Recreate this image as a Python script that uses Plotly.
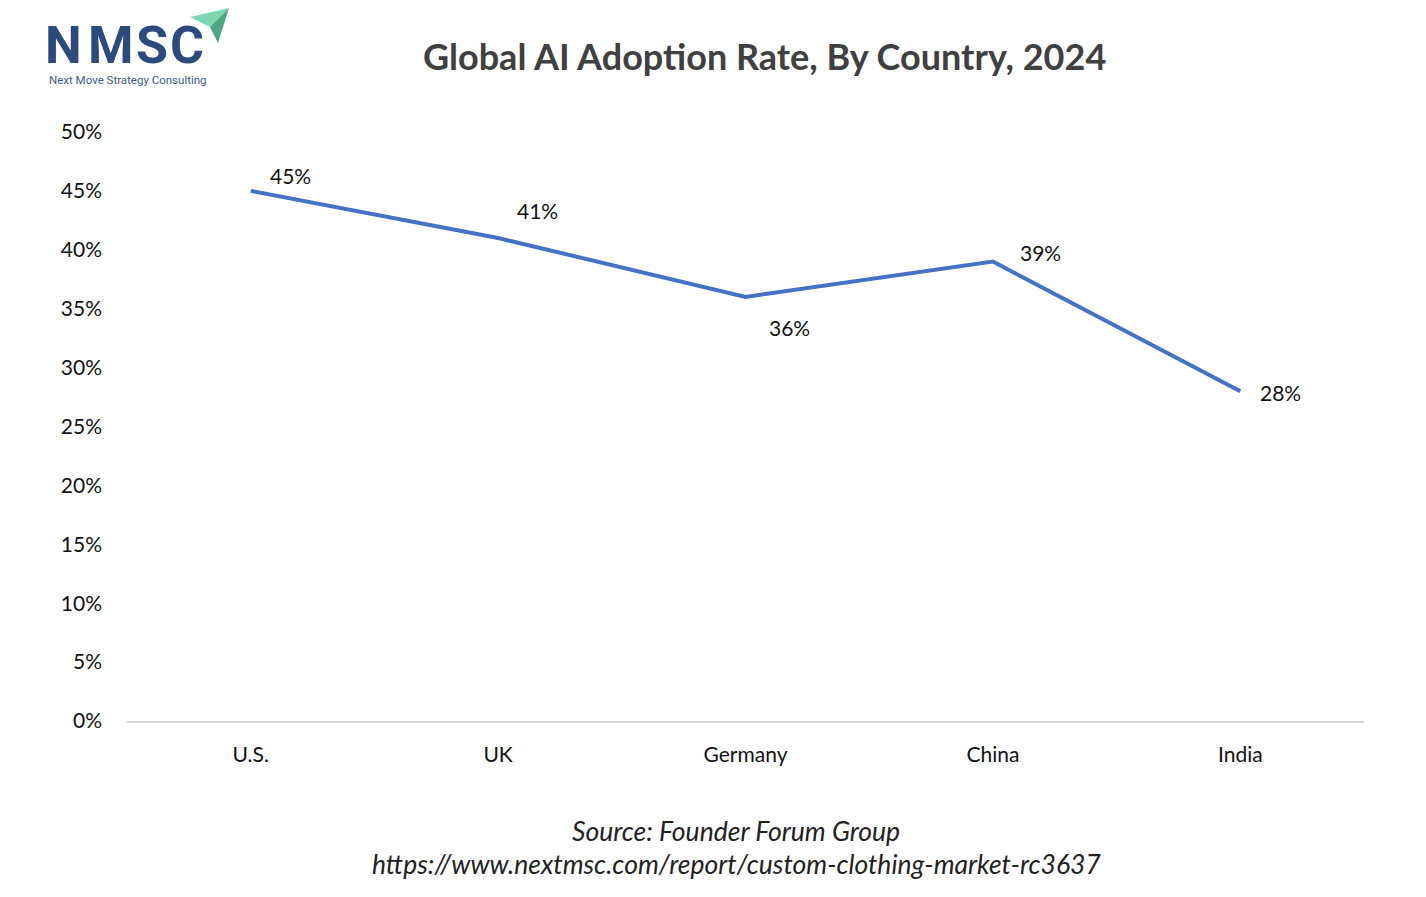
import plotly.graph_objects as go

countries = ["U.S.", "UK", "Germany", "China", "India"]
adoption = [45, 41, 36, 39, 28]
y_ticks = [0, 5, 10, 15, 20, 25, 30, 35, 40, 45, 50]
y_tick_labels = [f"{v}%" for v in y_ticks]

# label offsets (pixels) for data labels, style only
label_dx = [17, 17, 21, 25, 18]
label_dy = [15, 28, -31, 9, -1]

W, H = 1426, 897
L, R, T, B = 127, 62, 132, 176
PW, PH = W - L - R, H - T - B

def px(x):
    return (x - L) / PW

def py(y):
    return (H - B - y) / PH

FONT = "Lato"

fig = go.Figure()
fig.add_trace(go.Scatter(
    x=countries, y=adoption, mode="lines",
    line=dict(color="#4472C4", width=4),
    hoverinfo="skip", showlegend=False,
))

annotations = []
for c, v, dx, dy in zip(countries, adoption, label_dx, label_dy):
    annotations.append(dict(
        x=c, y=v, xref="x", yref="y", text=f"{v}%", showarrow=False,
        xanchor="left", yanchor="middle", xshift=dx, yshift=dy,
        font=dict(family=FONT, size=21, color="#111111"),
    ))

# title
annotations.append(dict(
    x=px(764), y=py(56), xref="paper", yref="paper",
    text="<b>Global AI Adoption Rate, By Country, 2024</b>", showarrow=False,
    xanchor="center", yanchor="middle",
    font=dict(family=FONT, size=36, color="#404040"),
))
# source
annotations.append(dict(
    x=px(736), y=py(831), xref="paper", yref="paper",
    text="<i>Source: Founder Forum Group</i>", showarrow=False,
    xanchor="center", yanchor="middle",
    font=dict(family=FONT, size=26.5, color="#222222"),
))
annotations.append(dict(
    x=px(736), y=py(864), xref="paper", yref="paper",
    text="<i>https://www.nextmsc.com/report/custom-clothing-market-rc3637</i>", showarrow=False,
    xanchor="center", yanchor="middle",
    font=dict(family=FONT, size=26.5, color="#222222"),
))
# logo letters
logo_letters = ["N", "M", "S", "C"]
logo_x = [63, 111, 152, 187]
for ch, lx in zip(logo_letters, logo_x):
    annotations.append(dict(
        x=px(lx), y=py(46), xref="paper", yref="paper",
        text=f"<b>{ch}</b>", showarrow=False,
        xanchor="center", yanchor="middle",
        font=dict(family="Roboto", size=52, color="#2C4A7C"),
    ))
annotations.append(dict(
    x=px(47), y=py(80), xref="paper", yref="paper",
    text="Next Move Strategy Consulting", showarrow=False,
    xanchor="left", yanchor="middle",
    font=dict(family="Roboto", size=11.5, color="#3A5A8C"),
))

shapes = [
    dict(
        type="path", xref="paper", yref="paper",
        path=f"M {px(190)} {py(17)} L {px(229)} {py(8)} L {px(210)} {py(27)} Z",
        fillcolor="#7DD8B2", line=dict(width=0),
    ),
    dict(
        type="path", xref="paper", yref="paper",
        path=f"M {px(210)} {py(27)} L {px(229)} {py(8)} L {px(218)} {py(43)} Z",
        fillcolor="#4FA882", line=dict(width=0),
    ),
]

fig.update_layout(
    width=W, height=H,
    margin=dict(l=L, r=R, t=T, b=B, autoexpand=False),
    paper_bgcolor="white", plot_bgcolor="white",
    font=dict(family=FONT, size=21, color="#111111"),
    xaxis=dict(
        range=[-0.5, 4.5], showgrid=False, zeroline=False,
        showline=True, linecolor="#D9D9D9", linewidth=2,
        ticks="", ticklabelstandoff=14,
        tickfont=dict(family=FONT, size=21, color="#111111"),
        fixedrange=True,
    ),
    yaxis=dict(
        range=[0, 50], tickvals=y_ticks, ticktext=y_tick_labels,
        showgrid=False, zeroline=False, showline=False, ticks="",
        ticklabelstandoff=24,
        tickfont=dict(family=FONT, size=21, color="#111111"),
        fixedrange=True,
    ),
    annotations=annotations,
    shapes=shapes,
    showlegend=False,
)

fig.write_html(
    "out.html",
    config={"displayModeBar": False},
    post_script="document.body.style.margin='0px';document.body.style.overflow='hidden';",
)
